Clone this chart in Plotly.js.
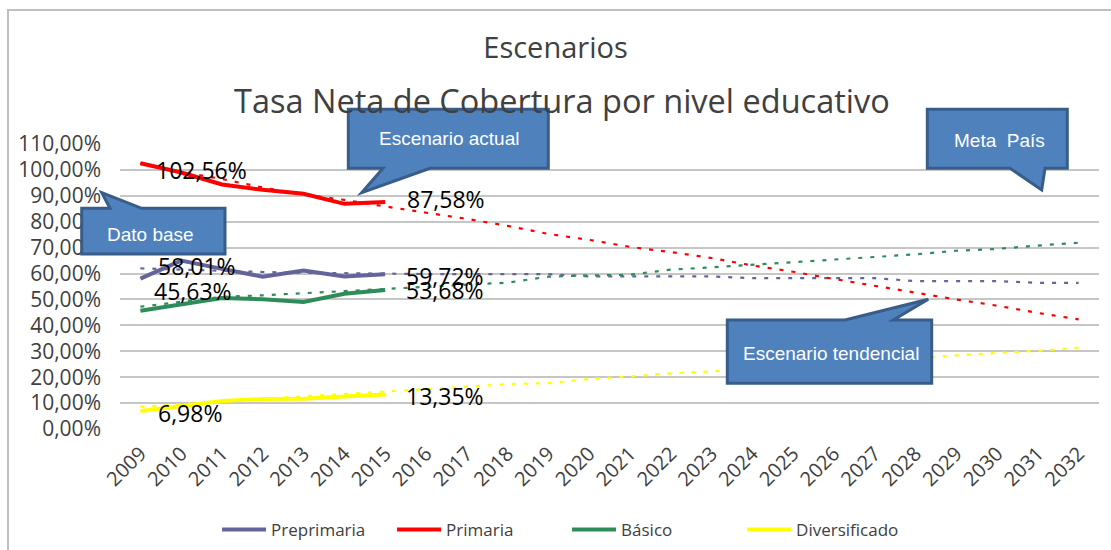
<!DOCTYPE html>
<html>
<head>
<meta charset="utf-8">
<script src="https://cdn.plot.ly/plotly-3.0.1.min.js"></script>
<style>html,body{margin:0;padding:0;background:#fff;}#chart{width:1111px;height:550px;}</style>
</head>
<body>
<div id="chart"></div>
<script>
// ---- data ----
const years = ['2009','2010','2011','2012','2013','2014','2015','2016','2017','2018','2019','2020',
               '2021','2022','2023','2024','2025','2026','2027','2028','2029','2030','2031','2032'];
const actualYears = years.slice(0, 7);

const preprimaria   = [58.01, 65.0, 61.8, 58.8, 61.2, 58.9, 59.72];
const primaria      = [102.56, 99.0, 94.4, 92.3, 90.8, 86.9, 87.58];
const basico        = [45.63, 48.2, 50.6, 50.1, 49.0, 52.2, 53.68];
const diversificado = [6.98, 8.8, 10.8, 11.6, 11.7, 12.5, 13.35];

const preprimariaTrend   = [62.0, 61.5, 61.0, 60.6, 60.3, 60.1, 59.9, 59.8, 59.8, 59.8, 59.8, 58.9,
                            58.9, 58.9, 58.9, 58.2, 58.2, 58.2, 58.2, 57.1, 57.1, 57.1, 56.4, 56.4];
const primariaTrend      = [102.5, 99.2, 96.5, 93.2, 90.5, 88.4, 85.9, 83.6, 81.1, 78.4, 75.3, 73.0,
                            70.3, 68.3, 66.0, 63.1, 60.7, 57.9, 55.2, 52.7, 50.0, 47.6, 44.8, 42.3];
const basicoTrend        = [47.2, 49.2, 51.0, 51.6, 52.4, 53.2, 54.1, 55.0, 55.6, 56.5, 58.8, 59.3,
                            59.5, 61.5, 62.4, 63.4, 64.5, 65.5, 66.6, 67.4, 68.8, 69.5, 70.8, 71.9];
const diversificadoTrend = [8.6, 9.5, 10.8, 11.8, 12.6, 13.5, 14.4, 15.4, 16.4, 17.3, 17.7, 19.3,
                            20.3, 21.5, 22.2, 23.3, 24.3, 25.3, 26.3, 27.2, 28.4, 29.2, 30.2, 31.4];

const seriesNames = ['Preprimaria', 'Primaria', 'Básico', 'Diversificado'];
const calloutLabels = ['Dato base', 'Escenario actual', 'Meta\u00a0\u00a0País', 'Escenario tendencial'];

// ---- styling ----
const colors = ['#64649C', '#FF0000', '#2E8B5A', '#FFFF00'];
const W = 1111, H = 550;
const M = {l: 120, r: 12, t: 144, b: 121};
const PW = W - M.l - M.r, PH = H - M.t - M.b;
const px = x => (x - M.l) / PW;
const py = y => (H - M.b - y) / PH;
function pathOf(pts) {
  return 'M ' + pts.map(p => px(p[0]).toFixed(5) + ',' + py(p[1]).toFixed(5)).join(' L ') + ' Z';
}

const actual = [preprimaria, primaria, basico, diversificado];
const trends = [preprimariaTrend, primariaTrend, basicoTrend, diversificadoTrend];

const traces = [];
actual.forEach((vals, i) => {
  traces.push({
    x: actualYears, y: vals, type: 'scatter', mode: 'lines', name: seriesNames[i],
    line: {color: colors[i], width: 4}, showlegend: true
  });
});
trends.forEach((vals, i) => {
  traces.push({
    x: years, y: vals, type: 'scatter', mode: 'lines', name: seriesNames[i] + ' (tendencia)',
    line: {color: colors[i], width: 2.2, dash: '4px,8px'}, showlegend: false
  });
});

const fmt = v => v.toFixed(2).replace('.', ',') + '%';
// data labels: [series index, point index, xshift, yshift]
const labelSpecs = [
  [1, 0, 14, -7], [1, 6, 20, 3],
  [0, 0, 16, 13], [0, 6, 19, -2],
  [2, 0, 12, 20], [2, 6, 19, 0],
  [3, 0, 16, -2], [3, 6, 19, -2]
];
const annotations = labelSpecs.map(s => ({
  x: s[1], y: actual[s[0]][s[1]], xref: 'x', yref: 'y',
  text: fmt(actual[s[0]][s[1]]), showarrow: false, xanchor: 'left', yanchor: 'middle',
  xshift: s[2], yshift: s[3], font: {family: 'Open Sans', size: 23, color: '#000000'}
}));

annotations.push({
  text: 'Tasa Neta de Cobertura por nivel educativo', xref: 'paper', yref: 'paper',
  x: px(562), y: py(100), xanchor: 'center', yanchor: 'middle', showarrow: false,
  font: {family: 'Open Sans', size: 32.5, color: '#404040'}
});

// callouts
const calloutShapes = [
  [[81.7,208.3],[110,208.3],[101.7,192.7],[141.7,208.3],[225,208.3],[225,254],[81.7,254]],
  [[348.3,109.3],[548.3,109.3],[548.3,168.3],[430,168.3],[361.7,192.7],[383,168.3],[348.3,168.3]],
  [[927.3,109.3],[1067.3,109.3],[1067.3,168.3],[1045,168.3],[1041.7,190],[1010,168.3],[927.3,168.3]],
  [[727.3,320],[845,320],[928.3,299.3],[893.3,320],[931.7,320],[931.7,383.3],[727.3,383.3]]
];
const calloutTextPos = [[150, 234], [449, 139], [999, 140], [831, 353]];

const shapes = [{
  type: 'rect', xref: 'paper', yref: 'paper', x0: px(8), x1: px(1125), y0: py(10), y1: py(570),
  line: {color: '#BFBFBF', width: 2}, fillcolor: 'rgba(0,0,0,0)', layer: 'below'
}];
calloutShapes.forEach(pts => shapes.push({
  type: 'path', xref: 'paper', yref: 'paper', path: pathOf(pts),
  fillcolor: '#4F81BD', line: {color: '#385D8A', width: 3}, layer: 'above'
}));
calloutLabels.forEach((t, i) => annotations.push({
  text: t, xref: 'paper', yref: 'paper', x: px(calloutTextPos[i][0]), y: py(calloutTextPos[i][1]),
  xanchor: 'center', yanchor: 'middle', showarrow: false,
  font: {family: 'Liberation Sans Narrow, Arial Narrow, Liberation Sans, sans-serif', size: 19, color: '#FFFFFF'}
}));

const layout = {
  width: W, height: H, margin: M,
  paper_bgcolor: '#FFFFFF', plot_bgcolor: '#FFFFFF',
  separators: ',.',
  font: {family: 'Open Sans', color: '#404040'},
  title: {
    text: 'Escenarios', font: {family: 'Open Sans', size: 29, color: '#404040'},
    xref: 'container', x: 0.5, xanchor: 'center', yref: 'container', y: 1 - 48 / H, yanchor: 'middle'
  },
  xaxis: {
    type: 'category', categoryorder: 'array', categoryarray: years, range: [-0.5, 23.5],
    tickangle: -45, tickfont: {family: 'Open Sans', size: 20, color: '#404040'},
    showgrid: false, zeroline: false, showline: false, ticks: '', ticklabelstandoff: 8, fixedrange: true
  },
  yaxis: {
    range: [0, 110], dtick: 10, tick0: 0, tickformat: '.2f', ticksuffix: '%',
    tickfont: {family: 'Open Sans', size: 21, color: '#404040'},
    showgrid: true, gridcolor: '#C6C6C6', gridwidth: 2, zeroline: false, showline: false,
    ticks: '', ticklabelstandoff: 18, fixedrange: true
  },
  legend: {
    orientation: 'h', xref: 'container', yref: 'container', x: 0.5104, xanchor: 'center',
    y: 1 - 530 / H, yanchor: 'middle', font: {family: 'Open Sans', size: 17, color: '#404040'},
    bgcolor: 'rgba(0,0,0,0)', itemwidth: 44, entrywidth: 116, entrywidthmode: 'pixels'
  },
  showlegend: true,
  annotations: annotations,
  shapes: shapes
};

Plotly.newPlot('chart', traces, layout, {displayModeBar: false, staticPlot: true});
</script>
</body>
</html>
